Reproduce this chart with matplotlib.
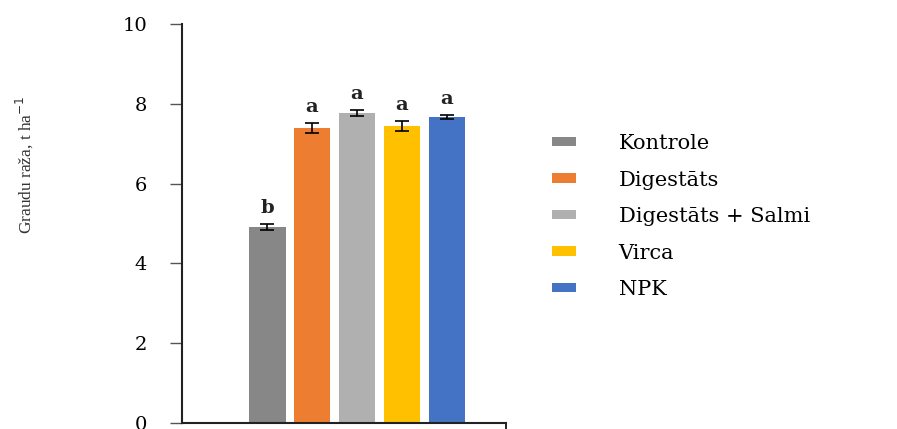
import numpy as np
import matplotlib
matplotlib.use("Agg")
import matplotlib.pyplot as plt
from matplotlib.patches import Patch

# Grain yield by treatment (t/ha), with standard errors and significance letters
treatments = ["Kontrole", "Digestāts", "Digestāts + Salmi", "Virca", "NPK"]
yields = [4.91, 7.39, 7.77, 7.44, 7.67]
errors = [0.08, 0.13, 0.07, 0.12, 0.04]
letters = ["b", "a", "a", "a", "a"]
colors = ["#878787", "#ed7d31", "#b0b0b0", "#ffc000", "#4472c4"]
yticks = [0, 2, 4, 6, 8, 10]

serif = "DejaVu Serif"

fig = plt.figure(figsize=(8.97, 4.29), dpi=100)
ax = fig.add_axes([0.2029, 0.014, 0.3612, 0.930])

x = np.arange(len(treatments))
ax.bar(x, yields, width=0.82, color=colors, zorder=2)
ax.errorbar(x, yields, yerr=errors, fmt="none", ecolor="black",
            elinewidth=1.2, capsize=5, capthick=1.2, zorder=3)

for xi, y, e, lab in zip(x, yields, errors, letters):
    ax.text(xi, y + e + 0.18, lab, ha="center", va="bottom",
            fontsize=14, fontweight="bold", family=serif, color="#222222")

ax.set_xlim(-1.89, 5.31)
ax.set_ylim(0, 10)
ax.set_yticks(yticks)
ax.set_yticklabels([str(t) for t in yticks], family=serif, fontsize=14)
ax.tick_params(axis="y", direction="out", length=9, width=1.0,
               color="#555555", pad=16)
ax.set_xticks([5.31])
ax.set_xticklabels([""])
ax.tick_params(axis="x", direction="out", length=5, width=1.2)

for side in ["top", "right"]:
    ax.spines[side].set_visible(False)
for side in ["left", "bottom"]:
    ax.spines[side].set_linewidth(1.5)
    ax.spines[side].set_color("#222222")

fig.text(0.027, 0.615, "Graudu raža, t ha$^{-1}$", rotation=90,
         ha="center", va="center", fontsize=12.5, family="Liberation Serif",
         color="#333333")

handles = [Patch(facecolor=c, edgecolor="none") for c in colors]
fig.legend(handles, treatments, loc="upper left",
           bbox_to_anchor=(552 / 897, 1 - 134 / 429),
           frameon=False, borderpad=0, borderaxespad=0,
           prop={"family": serif, "size": 15},
           handlelength=1.15, handleheight=0.34, handletextpad=2.05,
           labelspacing=0.84)

fig.savefig("out.png", dpi=100)
